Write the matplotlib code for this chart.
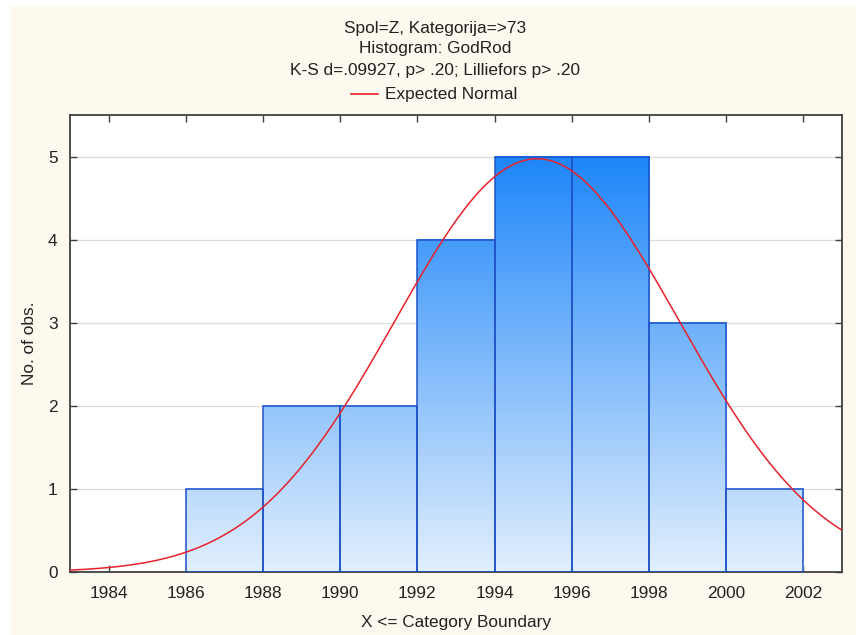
#!/usr/bin/env python3

import numpy as np
import matplotlib.pyplot as plt
from matplotlib.colors import LinearSegmentedColormap
from matplotlib.patches import Rectangle

plt.rcParams['font.family'] = ['Liberation Sans', 'DejaVu Sans']

# histogram data
edges = [1986, 1988, 1990, 1992, 1994, 1996, 1998, 2000, 2002]
counts = [1, 2, 2, 4, 5, 5, 3, 1]
xticks = [1984, 1986, 1988, 1990, 1992, 1994, 1996, 1998, 2000, 2002]
yticks = [0, 1, 2, 3, 4, 5]

# expected normal fit
mean = 1995.1
sd = 3.69
n_obs = sum(counts)
bin_w = 2

title_lines = ["Spol=Z, Kategorija=>73", "Histogram: GodRod",
               "K-S d=.09927, p> .20; Lilliefors p> .20"]
title_y = [28, 49, 71]

W, H = 856, 635
FS = 12.4
fig = plt.figure(figsize=(W / 100, H / 100), dpi=100, facecolor='white')

# cream panel
fig.patches.append(Rectangle((11 / W, 0), 1 - 11 / W, 1 - 6 / H,
                             transform=fig.transFigure, facecolor='#fdf9ef',
                             edgecolor='none', zorder=-10))

ax = fig.add_axes([70 / W, 1 - 572 / H, (842 - 70) / W, (572 - 115) / H])
ax.set_facecolor('white')

cmap = LinearSegmentedColormap.from_list('bl', ['#e2effd', '#1e86f9'])
top_val = 5.0
for i, c in enumerate(counts):
    x0, x1 = edges[i], edges[i + 1]
    g = np.linspace(0, c / top_val, 256).reshape(-1, 1)
    ax.imshow(g, cmap=cmap, vmin=0, vmax=1, origin='lower', aspect='auto',
              extent=[x0, x1, 0, c], zorder=2, interpolation='bilinear')
    ax.add_patch(Rectangle((x0, 0), x1 - x0, c, facecolor='none',
                           edgecolor='#1f52c8', linewidth=1.1, zorder=3))

xs = np.linspace(1983, 2003, 400)
ys = n_obs * bin_w / (sd * np.sqrt(2 * np.pi)) * np.exp(-0.5 * ((xs - mean) / sd) ** 2)
ax.plot(xs, ys, color='#e8212b', linewidth=1.1, zorder=4)

ax.set_xlim(1983, 2003)
ax.set_ylim(0, 5.5)
ax.set_xticks(xticks)
ax.set_yticks(yticks)
ax.yaxis.grid(True, color='#dcdcdc', linewidth=0.9, zorder=0)
ax.set_axisbelow(True)
ax.tick_params(direction='in', top=True, right=True, length=5, width=1,
               color='#404040', labelsize=FS, labelcolor='#222222')
ax.tick_params(axis='x', pad=10)
ax.tick_params(axis='y', pad=9)
for s in ax.spines.values():
    s.set_color('#404040')
    s.set_linewidth(1.3)

ax.set_xlabel('X <= Category Boundary', fontsize=FS, color='#222222', labelpad=10)
ax.set_ylabel('No. of obs.', fontsize=FS, color='#222222', labelpad=8)

cx = 435 / W
for line, yy in zip(title_lines, title_y):
    fig.text(cx, 1 - yy / H, line, ha='center', va='center', fontsize=FS,
             color='#222222')
fig.text(385 / W, 1 - 94 / H, 'Expected Normal', ha='left', va='center',
         fontsize=FS, color='#222222')
fig.lines.append(plt.Line2D([351 / W, 378 / W], [1 - 94 / H, 1 - 94 / H],
                            transform=fig.transFigure, color='#e8212b', linewidth=1.2))

fig.savefig('out.png', dpi=100, facecolor=fig.get_facecolor())
